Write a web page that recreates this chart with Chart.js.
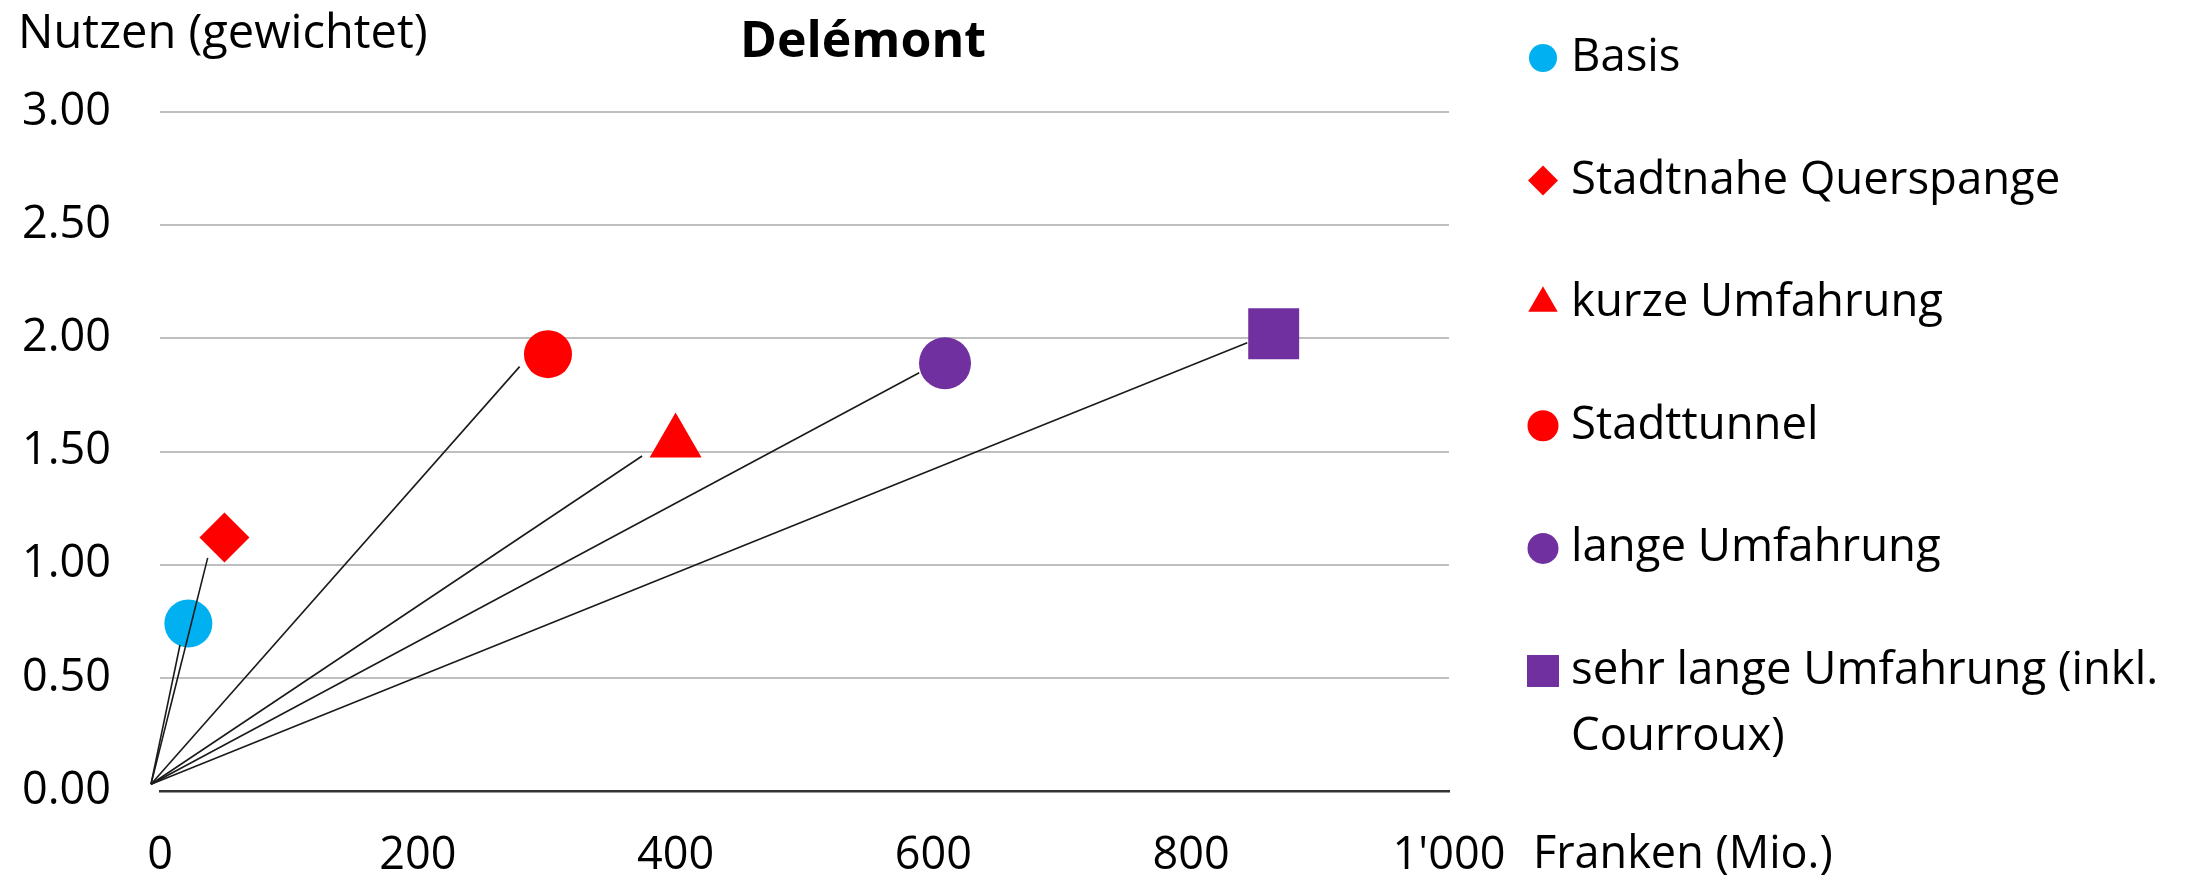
<!DOCTYPE html>
<html>
<head>
<meta charset="utf-8">
<title>Delémont</title>
<script src="https://cdn.jsdelivr.net/npm/chart.js@4.4.1/dist/chart.umd.min.js"></script>
<style>
  html, body { margin: 0; padding: 0; background: #fff; }
  #wrap { width: 2195px; height: 880px; position: relative; }
</style>
</head>
<body>
<div id="wrap"><canvas id="chartCanvas"></canvas></div>
<script>
const chartTitle = "Delémont";
const yTitle = "Nutzen (gewichtet)";
const xTitle = "Franken (Mio.)";

const seriesNames = [
  "Basis",
  "Stadtnahe Querspange",
  "kurze Umfahrung",
  "Stadttunnel",
  "lange Umfahrung",
  "sehr lange Umfahrung (inkl. Courroux)"
];
// Kosten (Franken Mio.) und gewichteter Nutzen
const costs = [22, 50, 400, 301, 609, 864];
const benefits = [0.74, 1.12, 1.54, 1.93, 1.89, 2.02];

// Verbindungslinien: gemeinsamer Startpunkt, Enden am Markerrand
const lineStartX = -7;
const lineStartY = 0.03;
const lineEndX = [15.5, 37, 374, 279, 589, 843.5];
const lineEndY = [0.645, 1.03, 1.48, 1.875, 1.848, 1.98];

const colors = ["#00B0F0", "#FF0000", "#FF0000", "#FF0000", "#7030A0", "#7030A0"];
const pointStyles = ["circle", "rectRot", "triangle", "circle", "circle", "rect"];
const pointSizes = [24, 25, 30, 24, 26, 36];
const legendSizes = [14, 15, 17, 15.5, 15.5, 22.6];

const FONT = "'Open Sans', Lato, sans-serif";

function fmtThousands(v) {
  return String(v).replace(/\B(?=(\d{3})+(?!\d))/g, "'");
}

function wrapText(ctx, text, maxWidth) {
  const words = text.split(" ");
  const lines = [];
  let line = "";
  words.forEach(w => {
    const test = line ? line + " " + w : w;
    if (ctx.measureText(test).width > maxWidth && line) {
      lines.push(line);
      line = w;
    } else {
      line = test;
    }
  });
  if (line) lines.push(line);
  return lines;
}

const textPlugin = {
  id: "textPlugin",
  afterDraw(chart) {
    const ctx = chart.ctx;
    ctx.save();
    ctx.fillStyle = "#000";
    ctx.textBaseline = "alphabetic";

    ctx.font = "bold 50px " + FONT;
    ctx.textAlign = "center";
    ctx.fillText(chartTitle, 863, 57);

    ctx.font = "47px " + FONT;
    ctx.textAlign = "left";
    ctx.fillText(yTitle, 18, 48);

    ctx.font = "45px " + FONT;
    ctx.textBaseline = "middle";
    ctx.fillText(xTitle, 1533, 855);

    // Legende
    ctx.font = "45.5px " + FONT;
    let y = 58;
    seriesNames.forEach((name, i) => {
      ctx.fillStyle = colors[i];
      Chart.helpers.drawPoint(ctx, {
        pointStyle: pointStyles[i],
        radius: legendSizes[i],
        rotation: 0,
        borderWidth: 0
      }, 1543, y);
      ctx.fillStyle = "#000";
      const lines = wrapText(ctx, name, 618);
      lines.forEach((t, j) => ctx.fillText(t, 1571, y + j * 66));
      y += 122.6;
    });
    ctx.restore();
  }
};

const datasets = [];
seriesNames.forEach((name, i) => {
  datasets.push({
    label: name,
    data: [{ x: costs[i], y: benefits[i] }],
    pointStyle: pointStyles[i],
    pointRadius: pointSizes[i],
    pointHoverRadius: pointSizes[i],
    backgroundColor: colors[i],
    borderWidth: 0,
    order: 2
  });
  datasets.push({
    label: name + " Linie",
    data: [{ x: lineStartX, y: lineStartY }, { x: lineEndX[i], y: lineEndY[i] }],
    showLine: true,
    borderColor: "#1a1a1a",
    borderWidth: 1.6,
    pointRadius: 0,
    clip: false,
    order: 1
  });
});

new Chart(document.getElementById("chartCanvas"), {
  type: "scatter",
  data: { datasets },
  options: {
    responsive: true,
    maintainAspectRatio: false,
    animation: false,
    events: [],
    layout: { padding: { left: 0, right: 746, top: 112, bottom: 0 } },
    plugins: {
      legend: { display: false },
      tooltip: { enabled: false },
      title: { display: false }
    },
    scales: {
      x: {
        type: "linear",
        min: 0,
        max: 1000,
        ticks: {
          stepSize: 200,
          padding: 38,
          color: "#000",
          font: { family: FONT, size: 45 },
          callback: v => fmtThousands(v)
        },
        grid: { display: false, drawTicks: false },
        border: { display: true, color: "#333", width: 2.5 },
        afterFit: s => { s.height = 89; }
      },
      y: {
        min: 0,
        max: 3,
        ticks: {
          stepSize: 0.5,
          padding: 49,
          color: "#000",
          font: { family: FONT, size: 45 },
          callback: v => v.toFixed(2)
        },
        grid: { color: "#bfbfbf", lineWidth: 2, drawTicks: false },
        border: { display: false },
        afterFit: s => { s.width = 160; }
      }
    }
  },
  plugins: [textPlugin]
});
</script>
</body>
</html>
